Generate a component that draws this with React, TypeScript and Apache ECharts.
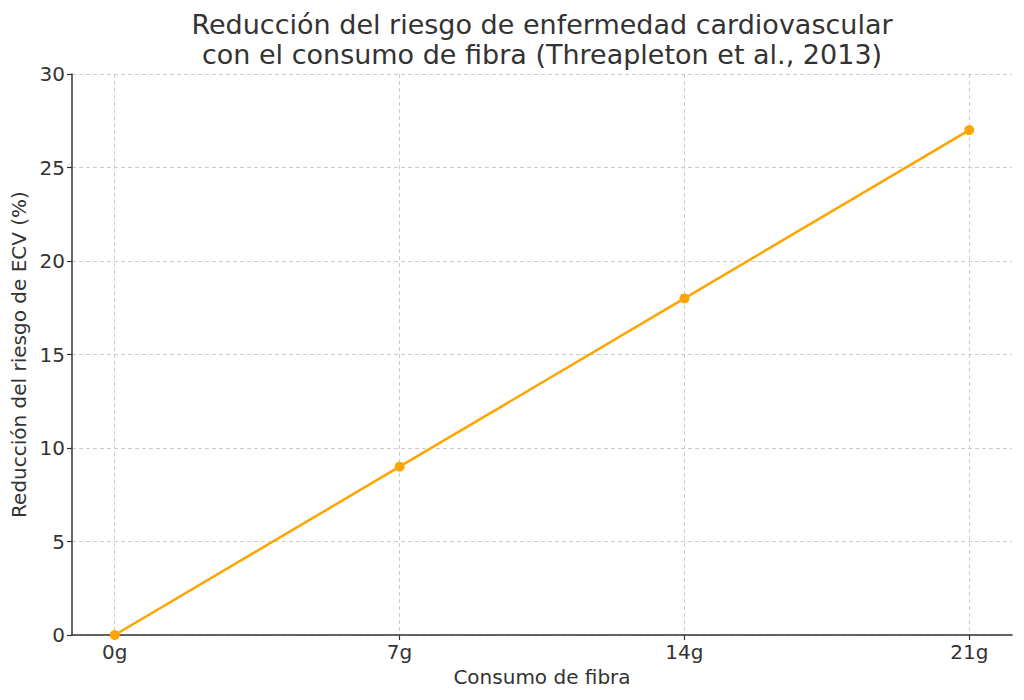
import * as React from "react";
import * as echarts from "echarts";

const fiberLabels = ["0g", "7g", "14g", "21g"];
const riskReduction = [0, 9, 18, 27];
const yTicks = [0, 5, 10, 15, 20, 25, 30];

const TEXT = "#333333";
const FONT = "DejaVu Sans";

export default function App() {
  const ref = React.useRef<HTMLDivElement | null>(null);

  React.useEffect(() => {
    if (!ref.current) return;
    const chart = echarts.init(ref.current, undefined, { renderer: "svg" });
    const xPos = fiberLabels.map((_, i) => i);
    const option: echarts.EChartsOption = {
      animation: false,
      backgroundColor: "#ffffff",
      textStyle: { fontFamily: FONT, color: TEXT },
      title: {
        text: "Reducción del riesgo de enfermedad cardiovascular\ncon el consumo de fibra (Threapleton et al., 2013)",
        // centred over the plot area, not the page
        left: 537,
        textAlign: "center",
        top: 4,
        textStyle: {
          fontFamily: FONT,
          fontSize: 27,
          fontWeight: "normal",
          color: TEXT,
          lineHeight: 30,
          align: "center",
        },
      },
      grid: { left: 72, right: 12, top: 74, bottom: 65 },
      xAxis: {
        type: "value",
        min: -0.15,
        max: 3.15,
        name: "Consumo de fibra",
        nameLocation: "middle",
        nameGap: 32,
        nameTextStyle: { fontSize: 20, color: TEXT, fontFamily: FONT },
        axisLine: { show: true, onZero: false, lineStyle: { color: TEXT, width: 1.5 } },
        axisTick: {
          show: true,
          customValues: xPos,
          length: 5,
          lineStyle: { color: TEXT, width: 1.2 },
        },
        axisLabel: {
          customValues: xPos,
          formatter: (v: number) => fiberLabels[Math.round(v)] ?? "",
          fontSize: 20,
          color: TEXT,
          fontFamily: FONT,
          margin: 7,
        },
        splitLine: {
          show: true,
          lineStyle: { color: "#cccccc", type: [4, 3], width: 1 },
        },
      } as any,
      yAxis: {
        type: "value",
        min: 0,
        max: 30,
        interval: 5,
        name: "Reducción del riesgo de ECV (%)",
        nameLocation: "middle",
        nameGap: 40,
        nameTextStyle: { fontSize: 20, color: TEXT, fontFamily: FONT },
        axisLine: { show: true, onZero: false, lineStyle: { color: TEXT, width: 1.5 } },
        axisTick: { show: true, length: 5, lineStyle: { color: TEXT, width: 1.2 } },
        axisLabel: {
          fontSize: 20,
          color: TEXT,
          fontFamily: FONT,
          margin: 7,
          formatter: (v: number) => (yTicks.includes(v) ? String(v) : ""),
        },
        splitLine: {
          show: true,
          lineStyle: { color: "#cccccc", type: [4, 3], width: 1 },
        },
      },
      series: [
        {
          type: "line",
          data: riskReduction.map((v, i) => [xPos[i], v]),
          symbol: "circle",
          symbolSize: 10,
          showSymbol: true,
          lineStyle: { color: "#FFA500", width: 2.5 },
          itemStyle: { color: "#FFA500" },
          clip: true,
        },
      ],
      tooltip: { show: false },
    };
    chart.setOption(option);
    return () => {
      chart.dispose();
    };
  }, []);

  return (
    <div
      ref={ref}
      style={{ position: "absolute", left: 0, top: 0, width: 1024, height: 700 }}
    />
  );
}
